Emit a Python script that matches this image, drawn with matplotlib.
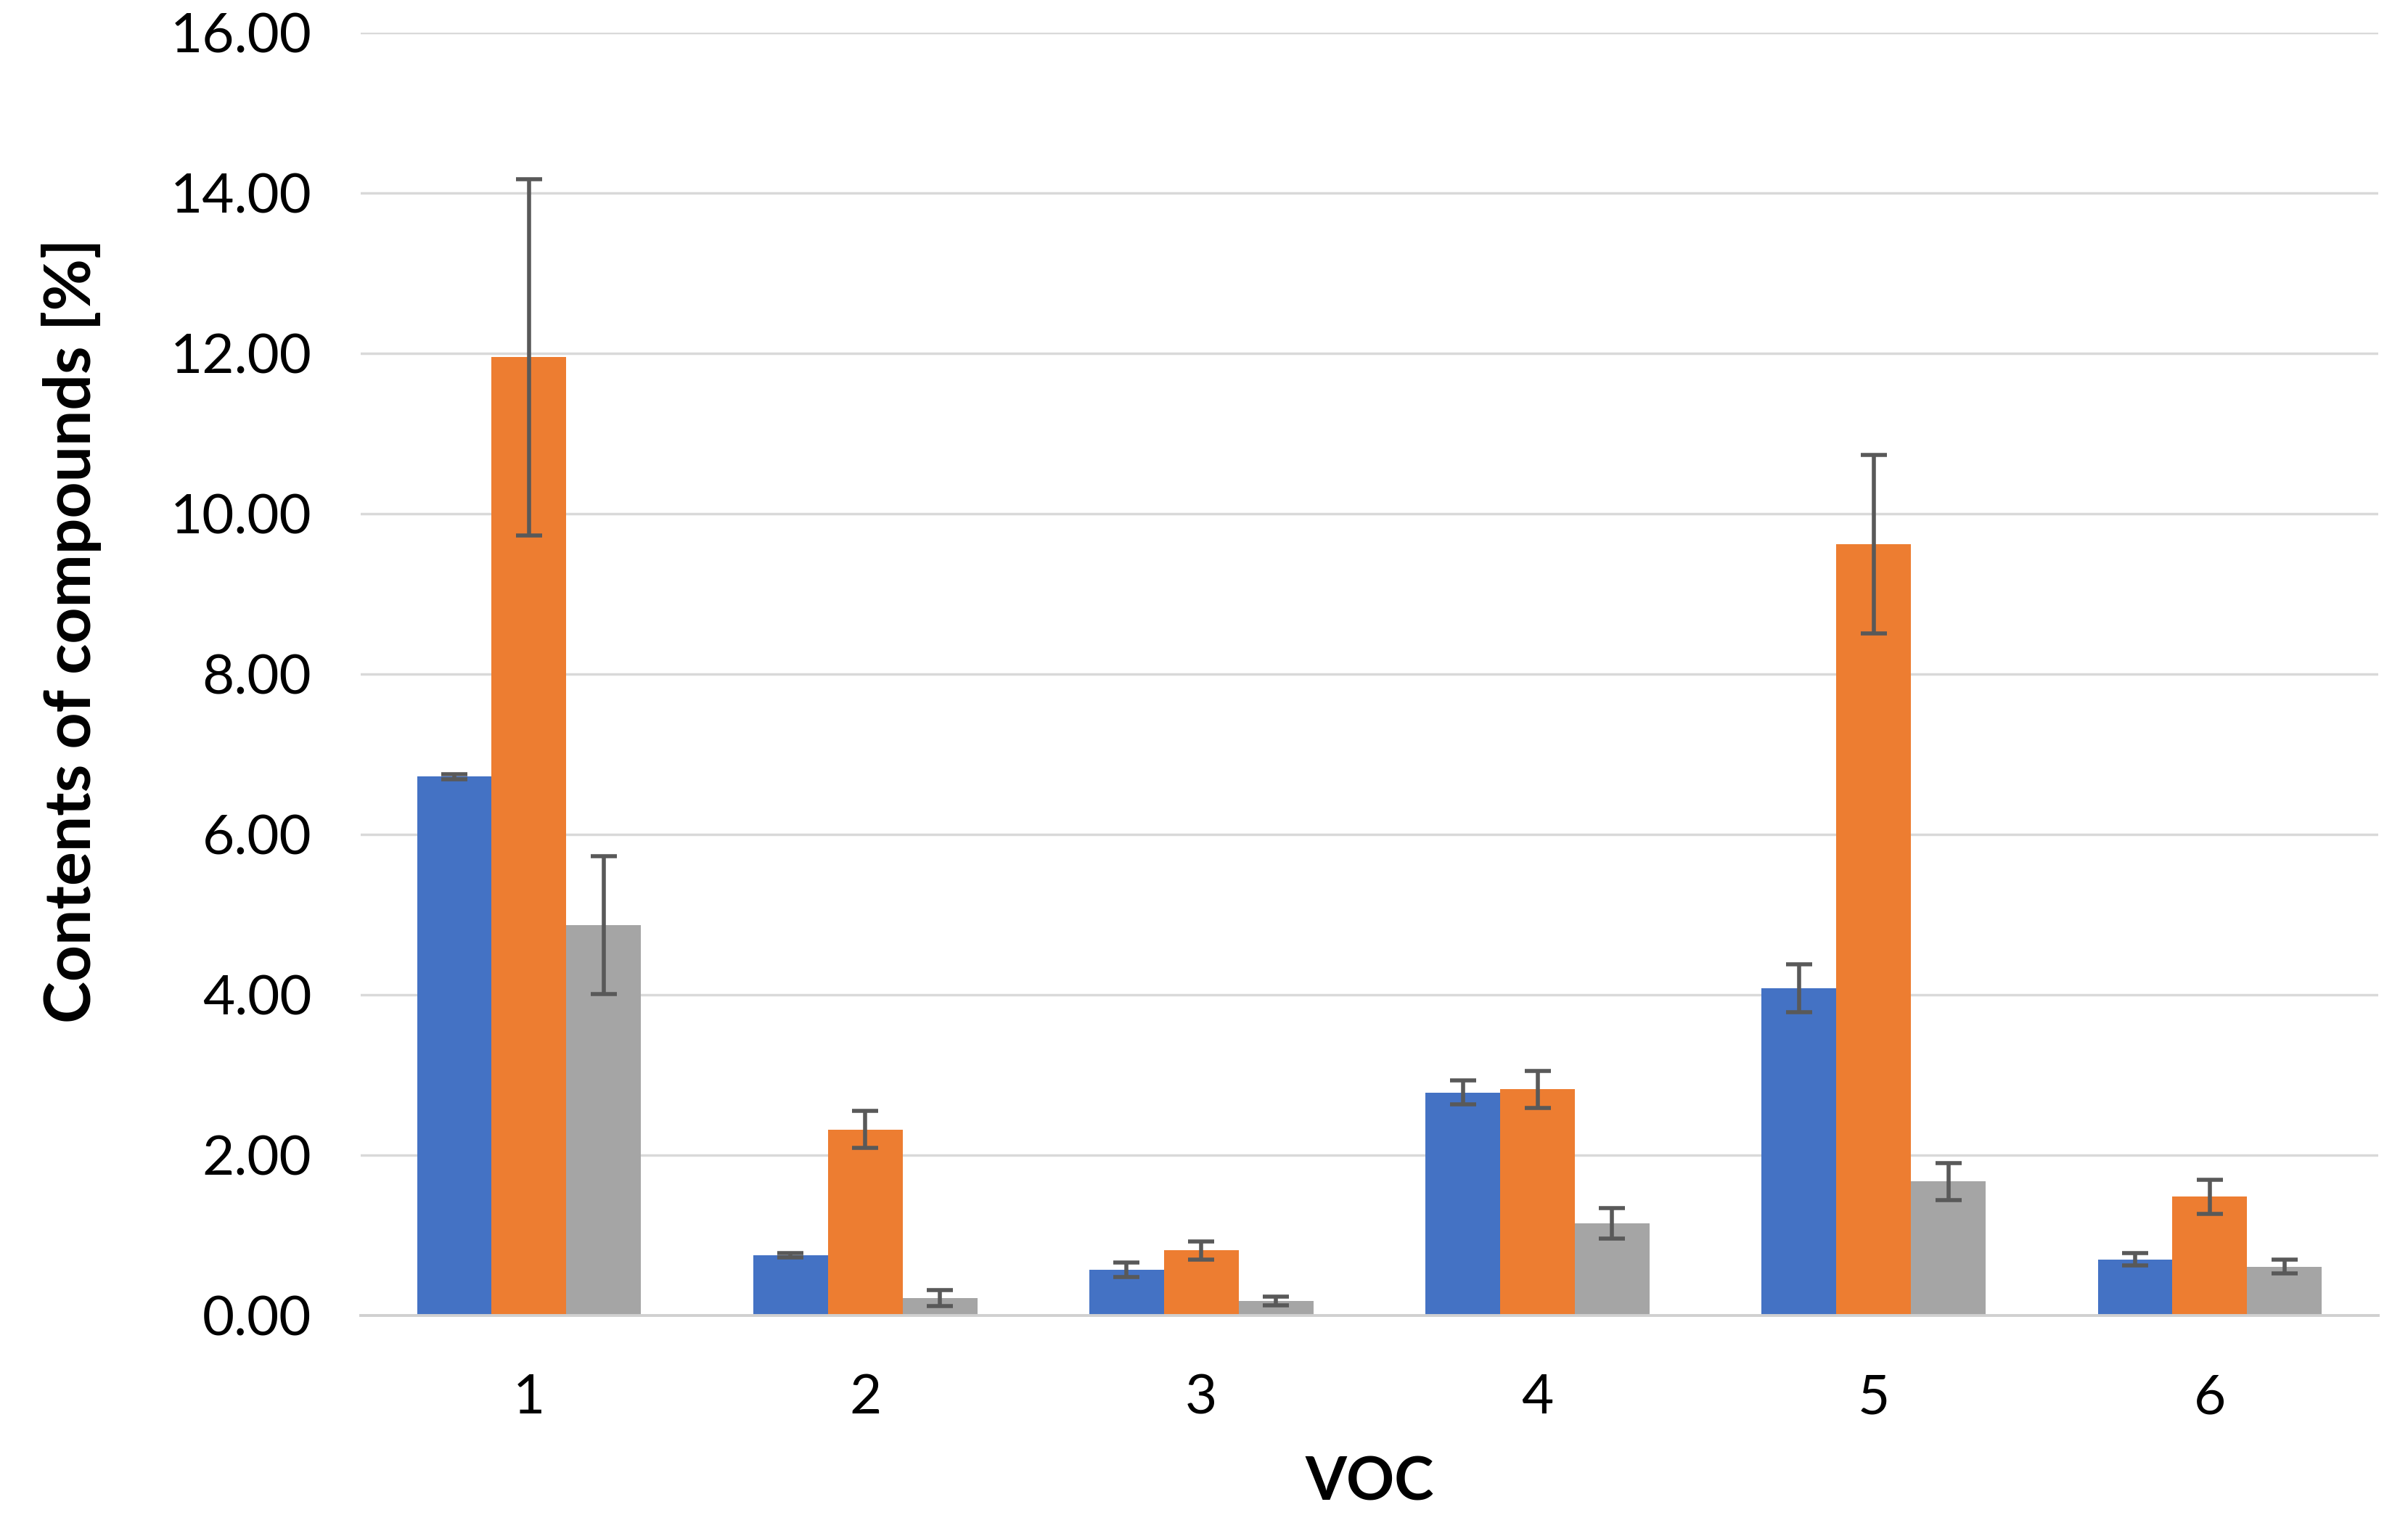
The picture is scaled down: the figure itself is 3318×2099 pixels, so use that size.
import matplotlib
matplotlib.use("Agg")
import matplotlib.pyplot as plt
import numpy as np

categories = ["1", "2", "3", "4", "5", "6"]
series_blue = [6.72, 0.75, 0.57, 2.78, 4.08, 0.70]
err_blue = [0.03, 0.03, 0.09, 0.15, 0.30, 0.08]
series_orange = [11.95, 2.32, 0.81, 2.82, 9.62, 1.48]
err_orange = [2.22, 0.23, 0.11, 0.23, 1.11, 0.21]
series_gray = [4.87, 0.22, 0.18, 1.15, 1.67, 0.61]
err_gray = [0.86, 0.10, 0.05, 0.19, 0.23, 0.09]
yticks = [0, 2, 4, 6, 8, 10, 12, 14, 16]

plt.rcParams['font.family'] = ['Lato', 'DejaVu Sans']

fig = plt.figure(figsize=(33.18, 20.99), dpi=100)
ax = fig.add_axes([0.1499, 0.1363, 0.8376, 0.8423])

x = np.arange(len(categories))
w = 1 / 4.5
colors = ["#4472C4", "#ED7D31", "#A5A5A5"]
data = [(series_blue, err_blue), (series_orange, err_orange), (series_gray, err_gray)]
for i, ((vals, errs), c) in enumerate(zip(data, colors)):
    ax.bar(x + (i - 1) * w, vals, width=w, color=c, zorder=2,
           yerr=errs, error_kw=dict(ecolor="#595959", elinewidth=4, capsize=13, capthick=4, zorder=3))

ax.set_xlim(-0.5, 5.5)
ax.set_ylim(0, 16)
ax.set_yticks(yticks)
ax.set_yticklabels([f"{v:.2f}" for v in yticks])
ax.set_xticks(x)
ax.set_xticklabels(categories)
ax.yaxis.grid(True, color="#D9D9D9", linewidth=2.5, zorder=0)
ax.set_axisbelow(True)
for s in ["top", "right", "left"]:
    ax.spines[s].set_visible(False)
ax.spines["bottom"].set_color("#D0D0D0")
ax.spines["bottom"].set_linewidth(2.8)
ax.tick_params(axis="both", length=0, labelsize=55, colors="#000000")
ax.tick_params(axis="y", pad=49)
ax.tick_params(axis="x", pad=57)

ax.set_ylabel("Contents of compounds [%]", fontsize=63, fontweight="bold", labelpad=68)
ax.yaxis.label.set_y(0.534)
ax.set_xlabel("VOC", fontsize=59, fontweight="bold", labelpad=33)

fig.savefig("out.png", dpi=100, facecolor="white")
